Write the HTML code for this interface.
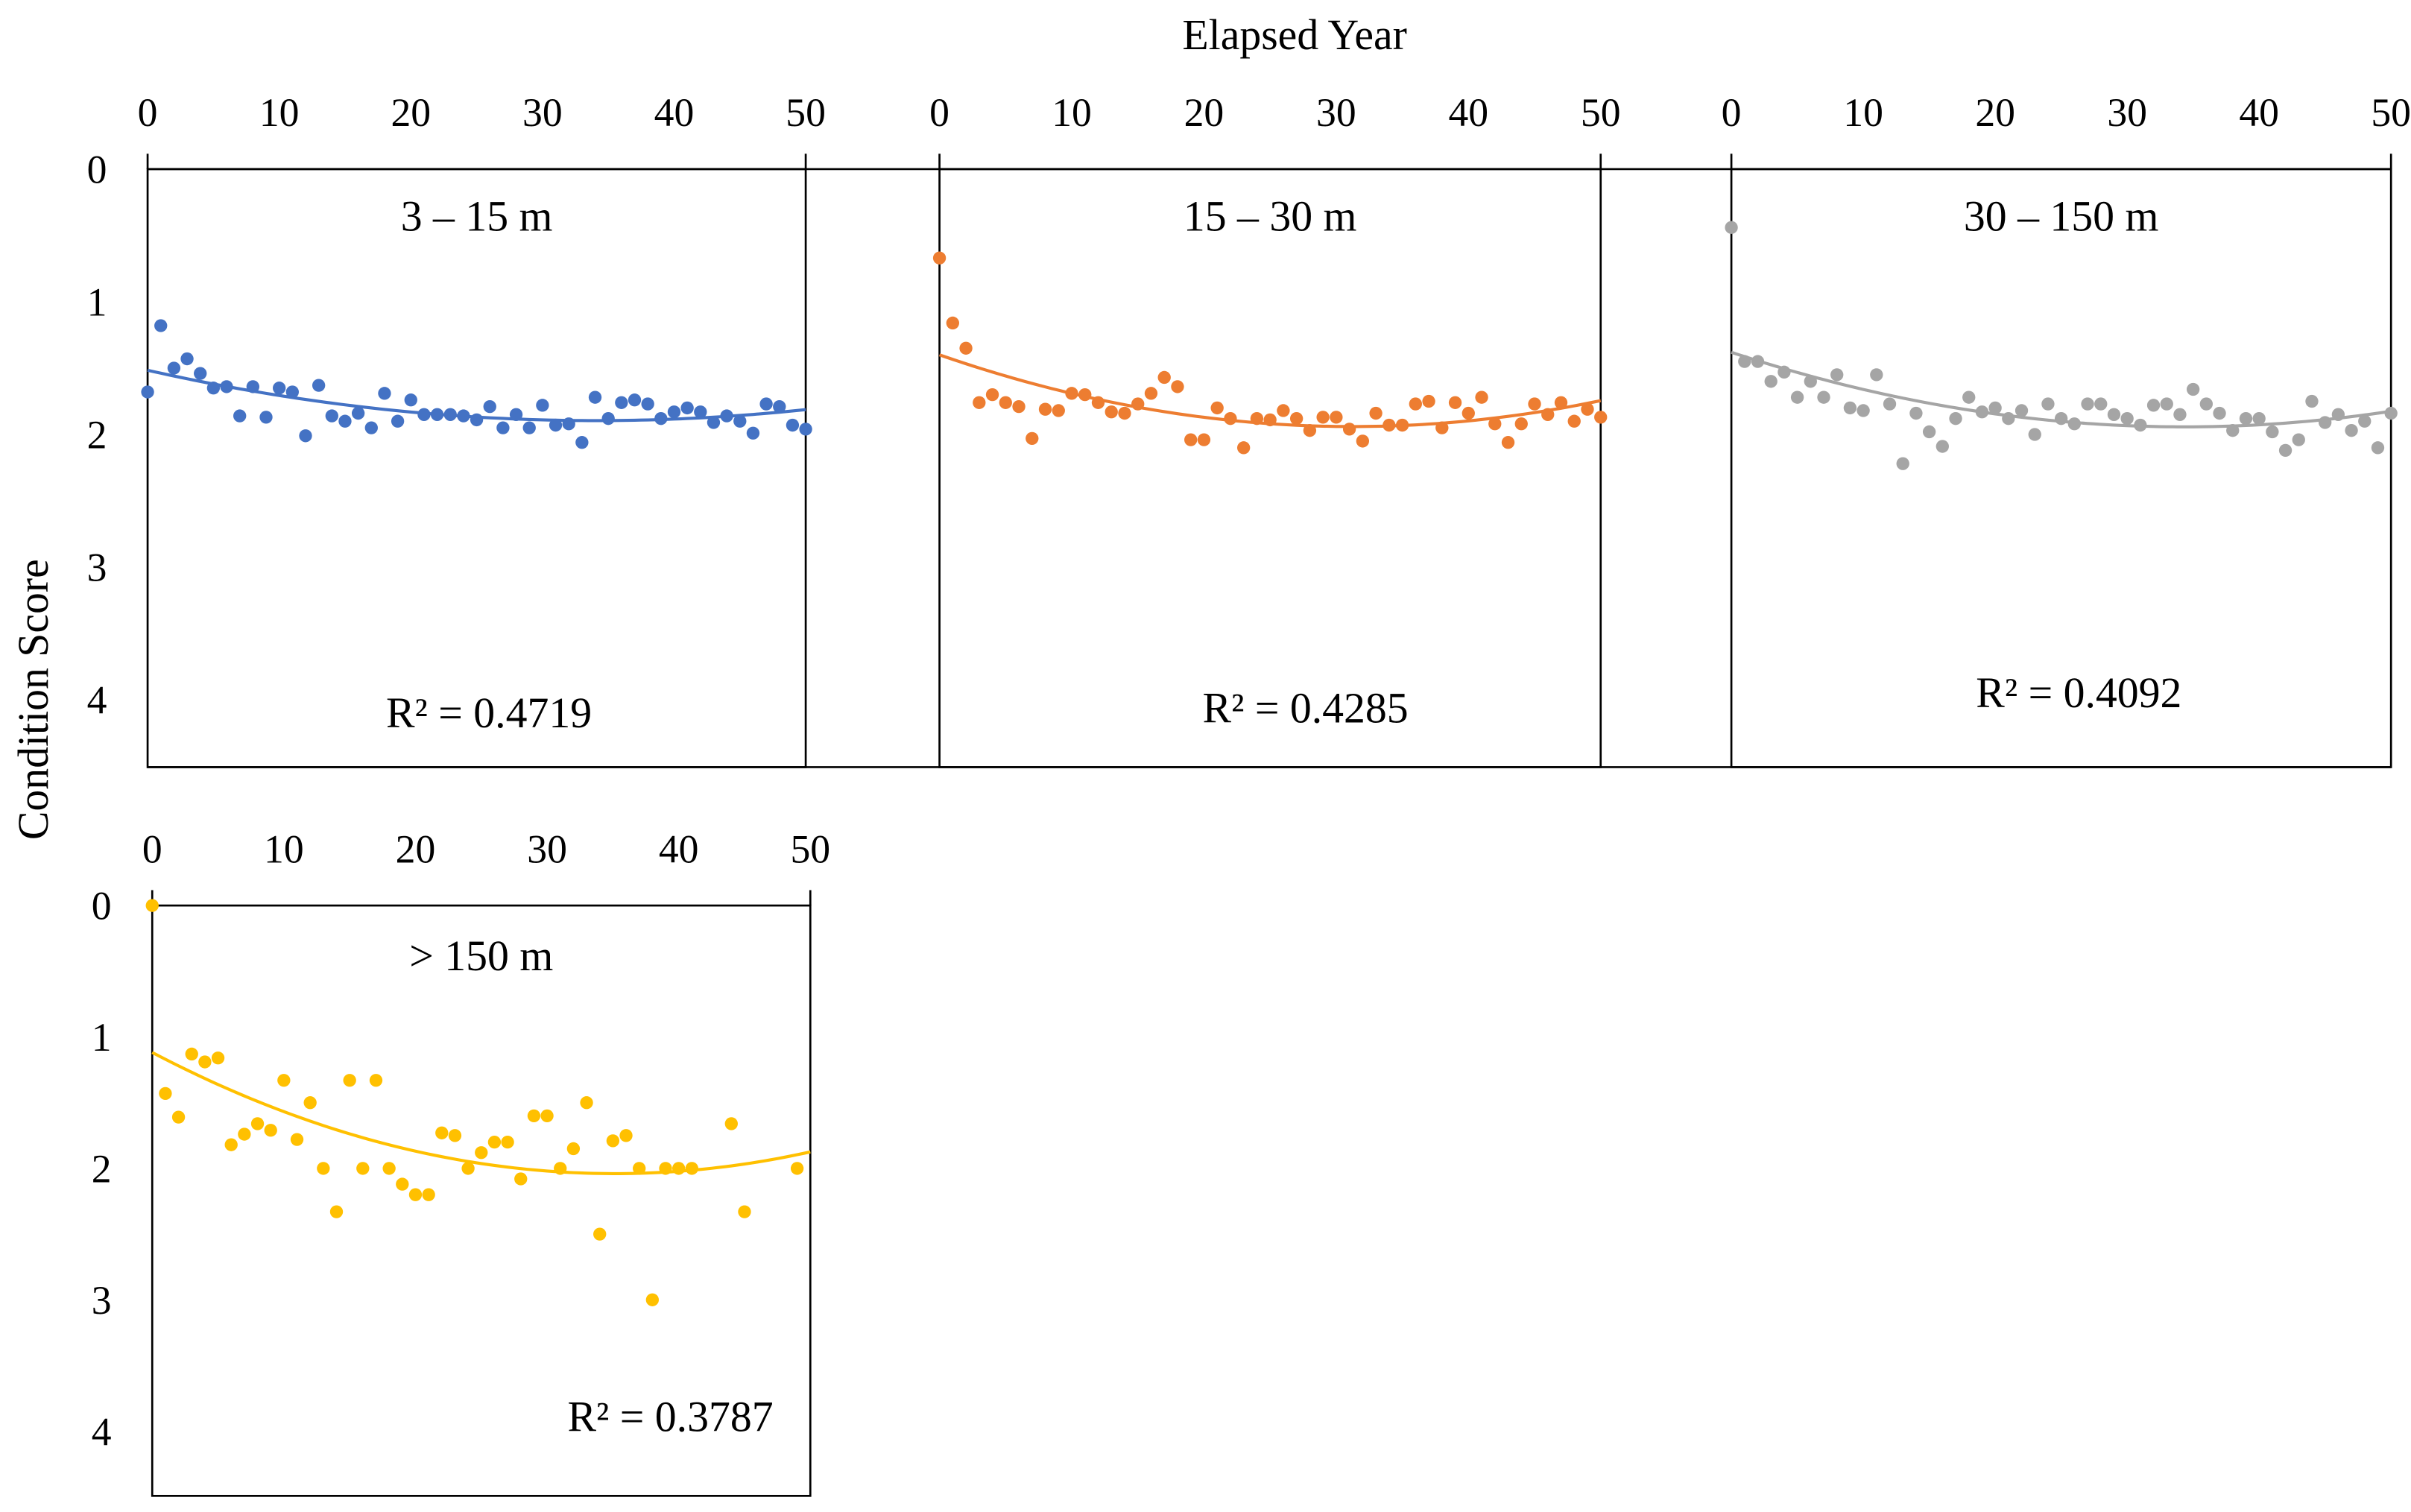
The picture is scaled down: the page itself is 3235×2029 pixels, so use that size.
<!DOCTYPE html>
<html><head><meta charset="utf-8"><style>
html,body{margin:0;padding:0;background:#fff}
svg{display:block}
text{font-family:"Liberation Serif",serif;fill:#000}
</style></head><body>
<svg id="chart" width="3235" height="2029" viewBox="0 0 1568 983.5" preserveAspectRatio="none" xmlns="http://www.w3.org/2000/svg">
<text x="842" y="32" font-size="28" text-anchor="middle">Elapsed Year</text>
<text transform="translate(31,455) rotate(-90)" font-size="28" text-anchor="middle">Condition Score</text>
<line x1="96" y1="110" x2="1555" y2="110" stroke="#000" stroke-width="1.3"/>
<line x1="96" y1="499" x2="1555" y2="499" stroke="#000" stroke-width="1.3"/>
</svg>
<script>
const years1=[0,1,2,3,4,5,6,7,8,9,10,11,12,13,14,15,16,17,18,19,20,21,22,23,24,25,26,27,28,29,30,31,32,33,34,35,36,37,38,39,40,41,42,43,44,45,46,47,48,49,50];
const vals1=[1.68,1.18,1.5,1.43,1.54,1.65,1.64,1.86,1.64,1.87,1.65,1.68,2.01,1.63,1.86,1.9,1.84,1.95,1.69,1.9,1.74,1.85,1.85,1.85,1.86,1.89,1.79,1.95,1.85,1.95,1.78,1.93,1.92,2.06,1.72,1.88,1.76,1.74,1.77,1.88,1.83,1.8,1.83,1.91,1.86,1.9,1.99,1.77,1.79,1.93,1.96];
const years2=years1;
const vals2=[0.67,1.16,1.35,1.76,1.7,1.76,1.79,2.03,1.81,1.82,1.69,1.7,1.76,1.83,1.84,1.77,1.69,1.57,1.64,2.04,2.04,1.8,1.88,2.1,1.88,1.89,1.82,1.88,1.97,1.87,1.87,1.96,2.05,1.84,1.93,1.93,1.77,1.75,1.95,1.76,1.84,1.72,1.92,2.06,1.92,1.77,1.85,1.76,1.9,1.81,1.87];
const years3=years1;
const vals3=[0.44,1.45,1.45,1.6,1.53,1.72,1.6,1.72,1.55,1.8,1.82,1.55,1.77,2.22,1.84,1.98,2.09,1.88,1.72,1.83,1.8,1.88,1.82,2.0,1.77,1.88,1.92,1.77,1.77,1.85,1.88,1.93,1.78,1.77,1.85,1.66,1.77,1.84,1.97,1.88,1.88,1.98,2.12,2.04,1.75,1.91,1.85,1.97,1.9,2.1,1.84];
const years4=[0,1,2,3,4,5,6,7,8,9,10,11,12,13,14,15,16,17,18,19,20,21,22,23,24,25,26,27,28,29,30,31,32,33,34,35,36,37,38,39,40,41,44,45,49];
const vals4=[0,1.43,1.61,1.13,1.19,1.16,1.82,1.74,1.66,1.71,1.33,1.78,1.5,2.0,2.33,1.33,2.0,1.33,2.0,2.12,2.2,2.2,1.73,1.75,2.0,1.88,1.8,1.8,2.08,1.6,1.6,2.0,1.85,1.5,2.5,1.79,1.75,2.0,3.0,2.0,2.0,2.0,1.66,2.33,2.0];
const xTicks=[0,10,20,30,40,50];
const yTicks=[0,1,2,3,4];
const panelLabels=["3 – 15 m","15 – 30 m","30 – 150 m","> 150 m"];
const r2Labels=["R² = 0.4719","R² = 0.4285","R² = 0.4092","R² = 0.3787"];

const svg=document.getElementById('chart');
const NS='http://www.w3.org/2000/svg';
function mk(tag,attrs,parent){const e=document.createElementNS(NS,tag);for(const k in attrs)e.setAttribute(k,attrs[k]);(parent||svg).appendChild(e);return e;}
function fit(xs,ys){let n=xs.length,S=[0,0,0,0,0],T=[0,0,0];for(let i=0;i<n;i++){let x=xs[i],p=1;for(let k=0;k<5;k++){S[k]+=p;if(k<3)T[k]+=p*ys[i];p*=x;}}
 const A=[[S[0],S[1],S[2],T[0]],[S[1],S[2],S[3],T[1]],[S[2],S[3],S[4],T[2]]];
 for(let i=0;i<3;i++){for(let j=i+1;j<3;j++){const f=A[j][i]/A[i][i];for(let k=i;k<4;k++)A[j][k]-=f*A[i][k];}}
 const c=[0,0,0];for(let i=2;i>=0;i--){let s=A[i][3];for(let k=i+1;k<3;k++)s-=A[i][k]*c[k];c[i]=s/A[i][i];}return c;}
const panels=[
 {x0:96,x1:524,y0:110,unit:86.3,bot:499,color:'#4472c4',xs:years1,ys:vals1,tickY:82,ylab:true,ly:150,r2x:318,r2y:473},
 {x0:611,x1:1041,y0:110,unit:86.3,bot:499,color:'#ed7d31',xs:years2,ys:vals2,tickY:82,ylab:false,ly:150,r2x:849,r2y:470},
 {x0:1126,x1:1555,y0:110,unit:86.3,bot:499,color:'#a5a5a5',xs:years3,ys:vals3,tickY:82,ylab:false,ly:150,r2x:1352,r2y:460},
 {x0:99,x1:527,y0:589,unit:85.5,bot:973,color:'#ffc000',xs:years4,ys:vals4,tickY:561,ylab:true,ly:631,r2x:436,r2y:931}
];
panels.forEach((p,pi)=>{
 const g=mk('g',{});
 
 
 const sx=v=>p.x0+(p.x1-p.x0)*v/50, sy=v=>p.y0+p.unit*v;
 const fr=mk('rect',{x:p.x0,y:p.y0,width:p.x1-p.x0,height:p.bot-p.y0,fill:'none',stroke:'#000','stroke-width':1.3},g);
 
 
 [p.x0,p.x1].forEach(x=>{const t=mk('line',{x1:x,y1:p.y0-10,x2:x,y2:p.y0,stroke:'#000','stroke-width':1.3},g);
  
  });
 xTicks.forEach(t=>{const e=mk('text',{x:sx(t),y:p.tickY,'font-size':26,'text-anchor':'middle'},g);e.textContent=t;
  
  });
 if(p.ylab)yTicks.forEach(t=>{const e=mk('text',{x:p.x0-33,y:sy(t)+9,'font-size':26,'text-anchor':'middle'},g);e.textContent=t;
  
  });
 const lab=mk('text',{x:(p.x0+p.x1)/2,y:p.ly,'font-size':28,'text-anchor':'middle'},g);lab.textContent=panelLabels[pi];
 
 
 const c=fit(p.xs,p.ys);let d='';
 for(let x=0;x<=50;x+=0.5){const y=c[0]+c[1]*x+c[2]*x*x;d+=(x?'L':'M')+sx(x).toFixed(2)+' '+sy(y).toFixed(2);}
 const tl=mk('path',{d:d,fill:'none',stroke:p.color,'stroke-width':2},g);
 
 
 p.xs.forEach((x,i)=>{const pt=mk('circle',{cx:sx(x),cy:sy(p.ys[i]),r:4.2,fill:p.color},g);
  
  });
 const r=mk('text',{x:p.r2x,y:p.r2y,'font-size':28,'text-anchor':'middle'},g);r.textContent=r2Labels[pi];
 
 
});
</script>
</body></html>
